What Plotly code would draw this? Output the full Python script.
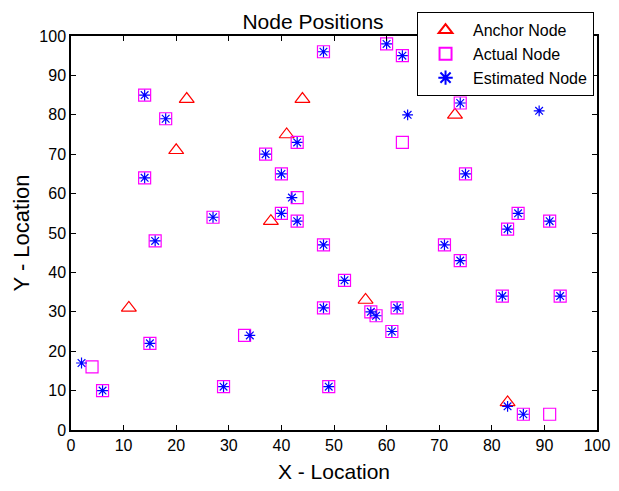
import plotly.graph_objects as go

anchor_x = [22, 44, 20, 41, 38, 11, 56, 73, 78, 83]
anchor_y = [84, 84, 71, 75, 53, 31, 33, 80, 86, 7]

actual_x = [14, 18, 14, 37, 40, 43, 43, 40, 43, 27, 48, 60, 63, 63, 74, 75, 85, 83, 91,
            16, 15, 4, 6, 29, 33, 48, 48, 49, 52, 57, 58, 62, 61, 71, 74, 82, 93, 86, 91]
actual_y = [85, 79, 64, 70, 65, 73, 59, 55, 53, 54, 96, 98, 95, 73, 83, 65, 55, 51, 53,
            48, 22, 16, 10, 11, 24, 47, 31, 11, 38, 30, 29, 31, 25, 47, 43, 34, 34, 4, 4]

est_x = [14, 18, 14, 37, 40, 43, 42, 40, 43, 27, 48, 60, 63, 64, 74, 75, 85, 83, 91,
         16, 15, 2, 6, 29, 34, 48, 48, 49, 52, 57, 58, 62, 61, 71, 74, 82, 93, 86, 89, 83]
est_y = [85, 79, 64, 70, 65, 73, 59, 55, 53, 54, 96, 98, 95, 80, 83, 65, 55, 51, 53,
         48, 22, 17, 10, 11, 24, 47, 31, 11, 38, 30, 29, 31, 25, 47, 43, 34, 34, 4, 81, 6]

tick_vals = [0, 10, 20, 30, 40, 50, 60, 70, 80, 90, 100]

fig = go.Figure()
fig.add_trace(go.Scatter(x=anchor_x, y=anchor_y, mode="markers", name="Anchor Node",
                         marker=dict(symbol="triangle-up-open", size=13, color="red",
                                     line=dict(width=1.2, color="red"))))
fig.add_trace(go.Scatter(x=actual_x, y=actual_y, mode="markers", name="Actual Node",
                         marker=dict(symbol="square-open", size=12, color="#ff00ff",
                                     line=dict(width=1.2, color="#ff00ff"))))
fig.add_trace(go.Scatter(x=est_x, y=est_y, mode="markers", name="Estimated Node",
                         marker=dict(symbol="asterisk-open", size=9, color="blue",
                                     line=dict(width=1.2, color="blue"))))

axis_common = dict(range=[0, 100], tickvals=tick_vals, ticks="inside", ticklen=5,
                   tickcolor="black", showline=True, linecolor="black", linewidth=1.5,
                   mirror="ticks", showgrid=False, zeroline=False,
                   tickfont=dict(size=16, color="black"))

fig.update_layout(
    width=603, height=475,
    paper_bgcolor="white", plot_bgcolor="white",
    font=dict(family="Liberation Sans, Arial, sans-serif", color="black"),
    margin=dict(l=63, r=14, t=28, b=53, autoexpand=False),
    title=dict(text="Node Positions", x=305 / 603, xanchor="center",
               y=1 - 14 / 475, yanchor="middle",
               font=dict(size=21, color="black")),
    xaxis=dict(title=dict(text="X - Location", font=dict(size=21), standoff=20), **axis_common),
    yaxis=dict(title=dict(text="Y - Location", font=dict(size=22), standoff=4), **axis_common),
    legend=dict(x=0.994, xanchor="right", y=1.061, yanchor="top",
                bgcolor="white", bordercolor="black", borderwidth=1.2,
                font=dict(size=16, color="black"), itemsizing="constant",
                itemwidth=45, tracegroupgap=0),
    showlegend=True,
)

fig.write_html("out.html")
